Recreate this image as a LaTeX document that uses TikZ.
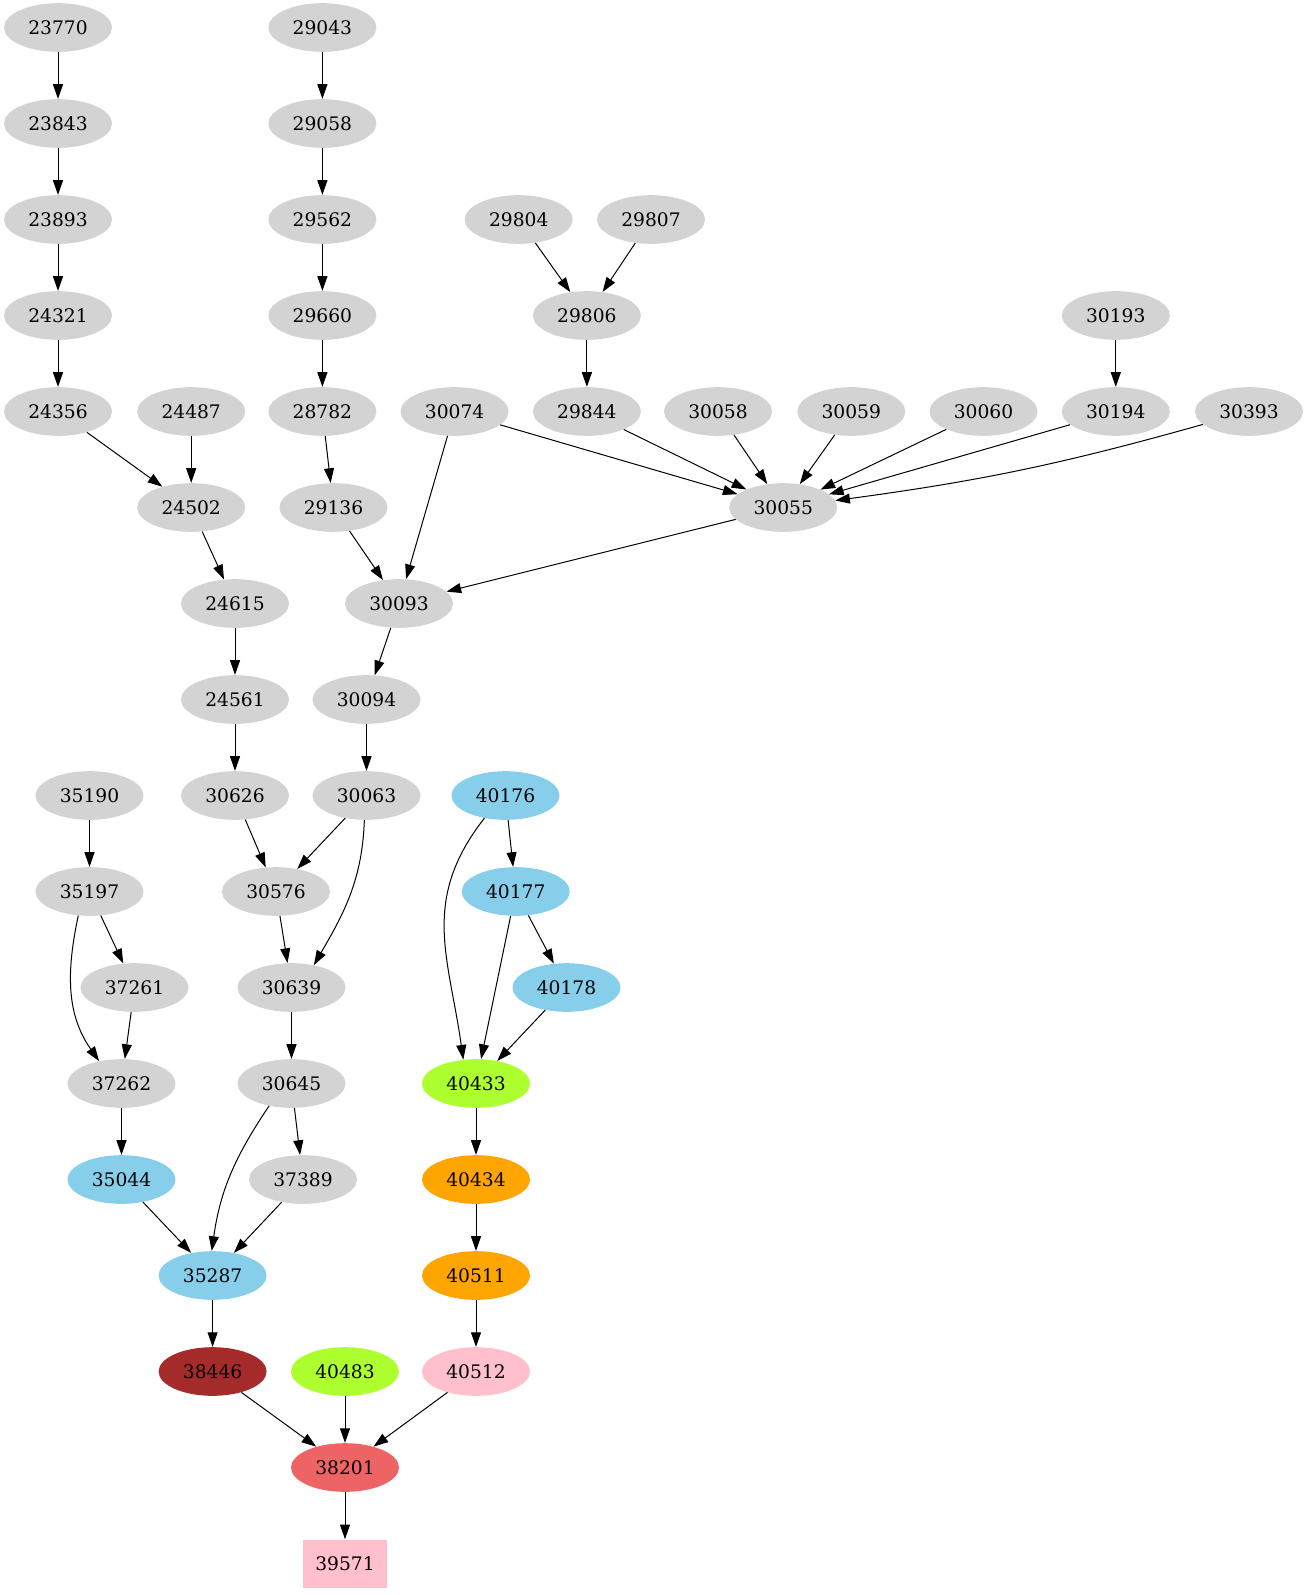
\documentclass[tikz,border=0pt]{standalone}
\usepackage{fontspec}
\setmainfont{DejaVu Serif}
\usetikzlibrary{arrows.meta,shapes.geometric}
\definecolor{lgray}{HTML}{D3D3D3}
\definecolor{skyb}{HTML}{87CEEB}
\definecolor{gyel}{HTML}{ADFF2F}
\definecolor{orng}{HTML}{FFA500}
\definecolor{pnk}{HTML}{FFC0CB}
\definecolor{brwn}{HTML}{A52A2A}
\definecolor{ired}{HTML}{EE6363}
\begin{document}
\begin{tikzpicture}[x=0.75pt,y=-0.75pt,
  nd/.style={ellipse,minimum width=81pt,minimum height=36.5pt,inner sep=0pt,font=\fontsize{14pt}{16pt}\selectfont},
  gr/.style={nd,fill=lgray},
  sb/.style={nd,fill=skyb},
  gy/.style={nd,fill=gyel},
  og/.style={nd,fill=orng},
  pk/.style={nd,fill=pnk},
  bw/.style={nd,fill=brwn},
  ir/.style={nd,fill=ired},
  sqnode/.style={rectangle,minimum width=63pt,minimum height=36pt,inner sep=0pt,fill=pnk,font=\fontsize{14pt}{16pt}\selectfont},
  edge/.style={-{Triangle[length=11pt,width=7.5pt]},line width=0.75pt}]
\useasboundingbox (0,0) rectangle (1306,1595);
% row 1
\node[gr] (n23770) at (58,27.5) {23770};
\node[gr] (n29043) at (322.4,27.5) {29043};
% row 2
\node[gr] (n23843) at (58,123.5) {23843};
\node[gr] (n29058) at (322.4,123.5) {29058};
% row 3
\node[gr] (n23893) at (58,219.5) {23893};
\node[gr] (n29562) at (322.4,219.5) {29562};
\node[gr] (n29804) at (518.7,219.5) {29804};
\node[gr] (n29807) at (651,219.5) {29807};
% row 4
\node[gr] (n24321) at (58,315.5) {24321};
\node[gr] (n29660) at (322.4,315.5) {29660};
\node[gr] (n29806) at (586.9,315.5) {29806};
\node[gr] (n30193) at (1115.8,315.5) {30193};
% row 5
\node[gr] (n24356) at (58,411.5) {24356};
\node[gr] (n24487) at (191.2,411.5) {24487};
\node[gr] (n28782) at (322.4,411.5) {28782};
\node[gr] (n30074) at (454.6,411.5) {30074};
\node[gr] (n29844) at (586.9,411.5) {29844};
\node[gr] (n30058) at (718,411.5) {30058};
\node[gr] (n30059) at (851.3,411.5) {30059};
\node[gr] (n30060) at (983.5,411.5) {30060};
\node[gr] (n30194) at (1115.8,411.5) {30194};
\node[gr] (n30393) at (1249,411.5) {30393};
% row 6
\node[gr] (n24502) at (191.2,507.5) {24502};
\node[gr] (n29136) at (333.5,507.5) {29136};
\node[gr] (n30055) at (783.2,507.5) {30055};
% row 7
\node[gr] (n24615) at (235,603.5) {24615};
\node[gr] (n30093) at (399,603.5) {30093};
% row 8
\node[gr] (n24561) at (235,699.5) {24561};
\node[gr] (n30094) at (366.5,699.5) {30094};
% row 9
\node[gr] (n35190) at (89.5,795.5) {35190};
\node[gr] (n30626) at (235,795.5) {30626};
\node[gr] (n30063) at (366.5,795.5) {30063};
\node[sb] (n40176) at (505.5,795.5) {40176};
% row 10
\node[gr] (n35197) at (89.5,891.5) {35197};
\node[gr] (n30576) at (276,891.5) {30576};
\node[sb] (n40177) at (515.7,891.5) {40177};
% row 11
\node[gr] (n37261) at (134.5,987.5) {37261};
\node[gr] (n30639) at (291.5,987.5) {30639};
\node[sb] (n40178) at (566.5,987.5) {40178};
% row 12
\node[gr] (n37262) at (121.5,1083.5) {37262};
\node[gr] (n30645) at (291.5,1083.5) {30645};
\node[gy] (n40433) at (476,1083.5) {40433};
% row 13
\node[sb] (n35044) at (121.5,1179.5) {35044};
\node[gr] (n37389) at (303,1179.5) {37389};
\node[og] (n40434) at (476,1179.5) {40434};
% row 14
\node[sb] (n35287) at (212.6,1275.5) {35287};
\node[og] (n40511) at (476,1275.5) {40511};
% row 15
\node[bw] (n38446) at (212.6,1371.5) {38446};
\node[gy] (n40483) at (345,1371.5) {40483};
\node[pk] (n40512) at (476,1371.5) {40512};
% row 16
\node[ir] (n38201) at (345,1467.5) {38201};
% row 17
\node[sqnode] (n39571) at (345,1563.5) {39571};
% edges
\draw[edge] (n23770) -- (n23843);
\draw[edge] (n23843) -- (n23893);
\draw[edge] (n23893) -- (n24321);
\draw[edge] (n24321) -- (n24356);
\draw[edge] (n24356) -- (n24502);
\draw[edge] (n24487) -- (n24502);
\draw[edge] (n24502) -- (n24615);
\draw[edge] (n24615) -- (n24561);
\draw[edge] (n24561) -- (n30626);
\draw[edge] (n30626) -- (n30576);
\draw[edge] (n30063) -- (n30576);
\draw[edge] (n30063.265) to[out=268,in=60] (n30639.45);
\draw[edge] (n30576) -- (n30639);
\draw[edge] (n30639) -- (n30645);
\draw[edge] (n30645.225) to[out=236,in=82] (n35287.92);
\draw[edge] (n30645) -- (n37389);
\draw[edge] (n37389) -- (n35287);
\draw[edge] (n35044) -- (n35287);
\draw[edge] (n35287) -- (n38446);
\draw[edge] (n38446) -- (n38201);
\draw[edge] (n40483) -- (n38201);
\draw[edge] (n40512) -- (n38201);
\draw[edge] (n38201) -- (n39571);
\draw[edge] (n29043) -- (n29058);
\draw[edge] (n29058) -- (n29562);
\draw[edge] (n29562) -- (n29660);
\draw[edge] (n29660) -- (n28782);
\draw[edge] (n28782) -- (n29136);
\draw[edge] (n29136) -- (n30093);
\draw[edge] (n30074) -- (n30093);
\draw[edge] (n30074) -- (n30055);
\draw[edge] (n29804) -- (n29806);
\draw[edge] (n29807) -- (n29806);
\draw[edge] (n29806) -- (n29844);
\draw[edge] (n29844) -- (n30055);
\draw[edge] (n30058) -- (n30055);
\draw[edge] (n30059) -- (n30055);
\draw[edge] (n30060) -- (n30055);
\draw[edge] (n30193) -- (n30194);
\draw[edge] (n30194) -- (n30055);
\draw[edge] (n30393) to[bend left=4] (n30055);
\draw[edge] (n30055) -- (n30093);
\draw[edge] (n30093) -- (n30094);
\draw[edge] (n30094) -- (n30063);
\draw[edge] (n35190) -- (n35197);
\draw[edge] (n35197) -- (n37261);
\draw[edge] (n35197.245) to[out=258,in=125] (n37262.135);
\draw[edge] (n37261) -- (n37262);
\draw[edge] (n37262) -- (n35044);
\draw[edge] (n40176) -- (n40177);
\draw[edge] (n40176.227) to[out=232,in=98,looseness=1.1] (n40433.118);
\draw[edge] (n40177) -- (n40433);
\draw[edge] (n40177) -- (n40178);
\draw[edge] (n40178) -- (n40433);
\draw[edge] (n40433) -- (n40434);
\draw[edge] (n40434) -- (n40511);
\draw[edge] (n40511) -- (n40512);
\end{tikzpicture}
\end{document}
